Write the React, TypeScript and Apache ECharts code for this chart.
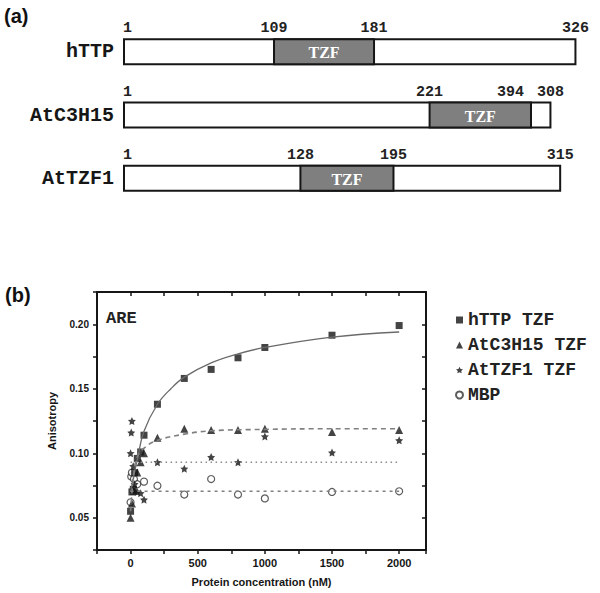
import React, { useEffect, useRef } from "react";
import * as echarts from "echarts";

// ---------- Panel (a): domain diagrams ----------
const proteinNames = ["hTTP", "AtC3H15", "AtTZF1"];
const proteinLengths = [326, 308, 315];
const tzfStarts = [109, 221, 128];
const tzfEnds = [181, 294, 195]; // drawn boundary positions
const boundaryLabels = [
  ["1", "109", "181", "326"],
  ["1", "221", "394", "308"],
  ["1", "128", "195", "315"],
];

// ---------- Panel (b): anisotropy vs protein concentration ----------
const xTickLabels = ["0", "500", "1000", "1500", "2000"];
const yTickLabels = ["0.05", "0.10", "0.15", "0.20"];

const httpConc = [0, 10, 20, 30, 50, 75, 100, 200, 400, 600, 800, 1000, 1500, 2000];
const httpAniso = [0.055, 0.07, 0.072, 0.085, 0.096, 0.101, 0.114, 0.138, 0.158, 0.165, 0.174, 0.182, 0.1915, 0.199];

const c3h15Conc = [0, 10, 25, 50, 75, 100, 200, 400, 600, 800, 1000, 1500, 2000];
const c3h15Aniso = [0.05, 0.061, 0.071, 0.085, 0.093, 0.1, 0.112, 0.119, 0.118, 0.118, 0.119, 0.1165, 0.118];

const tzf1Conc = [0, 5, 10, 20, 30, 50, 75, 100, 200, 400, 600, 800, 1000, 1500, 2000];
const tzf1Aniso = [0.1, 0.116, 0.125, 0.09, 0.076, 0.07, 0.069, 0.064, 0.093, 0.088, 0.097, 0.093, 0.113, 0.1005, 0.11];

const mbpConc = [0, 5, 10, 25, 50, 100, 200, 400, 600, 800, 1000, 1500, 2000];
const mbpAniso = [0.062, 0.082, 0.085, 0.08, 0.076, 0.078, 0.0748, 0.068, 0.08, 0.068, 0.065, 0.07, 0.0705];

// fitted curves
const httpFitX = [0, 25, 50, 100, 200, 300, 400, 600, 800, 1000, 1500, 2000];
const httpFitY = [0.07, 0.083, 0.095, 0.117, 0.138, 0.15, 0.159, 0.17, 0.177, 0.182, 0.19, 0.194];
const c3h15FitX = [0, 25, 50, 100, 200, 400, 600, 1000, 1500, 2000];
const c3h15FitY = [0.055, 0.085, 0.097, 0.104, 0.11, 0.1148, 0.1174, 0.1185, 0.119, 0.119];
const tzf1FitX = [0, 2000];
const tzf1FitY = [0.093, 0.093];
const mbpFitX = [0, 2000];
const mbpFitY = [0.0705, 0.0705];

const seriesNames = ["hTTP TZF", "AtC3H15 TZF", "AtTZF1 TZF", "MBP"];

const starPath =
  "path://M0,-10 L2.9,-4 9.5,-3.1 4.7,1.5 5.9,8.1 0,5 -5.9,8.1 -4.7,1.5 -9.5,-3.1 -2.9,-4 Z";

const zip = (xs: number[], ys: number[]) => xs.map((x, i) => [x, ys[i]]);

const INK = "#161616";
const MONO = "'Liberation Mono', 'DejaVu Sans Mono', monospace";
const SANS = "'Liberation Sans', Arial, sans-serif";

export default function App() {
  const ref = useRef<HTMLDivElement>(null);

  useEffect(() => {
    if (!ref.current) return;
    document.body.style.margin = "0";
    const chart = echarts.init(ref.current, undefined, { renderer: "svg" });

    const frameAxis = {
      axisLine: { show: true, onZero: false, lineStyle: { color: INK, width: 2 } },
      splitLine: { show: false },
    };

    const option: any = {
      animation: false,
      backgroundColor: "#ffffff",
      grid: [
        { left: 97, top: 292, width: 329, height: 258 },
        { left: 124, top: 20, width: 457, height: 190 },
      ],
      xAxis: [
        {
          gridIndex: 0,
          type: "value",
          position: "bottom",
          min: -250,
          max: 2200,
          interval: 250,
          ...frameAxis,
          axisTick: { show: true, inside: false, length: 4, lineStyle: { color: INK, width: 1.5 } },
          axisLabel: {
            show: true,
            margin: 7,
            fontFamily: SANS,
            fontWeight: "bold",
            fontSize: 11,
            color: INK,
            formatter: (v: number) => {
              const s = String(Math.round(v));
              return xTickLabels.includes(s) ? s : "";
            },
          },
          name: "Protein concentration (nM)",
          nameLocation: "middle",
          nameGap: 26,
          nameTextStyle: { fontFamily: SANS, fontWeight: "bold", fontSize: 11, color: INK },
        },
        {
          gridIndex: 0,
          type: "value",
          position: "top",
          min: -250,
          max: 2200,
          interval: 250,
          ...frameAxis,
          axisTick: { show: true, inside: true, length: 4, lineStyle: { color: INK, width: 1.5 } },
          axisLabel: { show: false },
        },
        {
          gridIndex: 1,
          type: "value",
          min: 1,
          max: 330,
          show: false,
        },
      ],
      yAxis: [
        {
          gridIndex: 0,
          type: "value",
          position: "left",
          min: 0.025,
          max: 0.225,
          interval: 0.025,
          ...frameAxis,
          axisTick: { show: true, inside: false, length: 4, lineStyle: { color: INK, width: 1.5 } },
          axisLabel: {
            show: true,
            margin: 8,
            fontFamily: SANS,
            fontWeight: "bold",
            fontSize: 10,
            color: INK,
            formatter: (v: number) => {
              const s = v.toFixed(2);
              return yTickLabels.includes(s) && Math.abs(v - Number(s)) < 1e-6 ? s : "";
            },
          },
          name: "Anisotropy",
          nameLocation: "middle",
          nameGap: 40,
          nameTextStyle: { fontFamily: SANS, fontWeight: "bold", fontSize: 11, color: INK },
        },
        {
          gridIndex: 0,
          type: "value",
          position: "right",
          min: 0.025,
          max: 0.225,
          interval: 0.025,
          ...frameAxis,
          axisTick: { show: true, inside: true, length: 4, lineStyle: { color: INK, width: 1.5 } },
          axisLabel: { show: false },
        },
        {
          gridIndex: 1,
          type: "category",
          data: proteinNames,
          inverse: true,
          axisLine: { show: false },
          axisTick: { show: false },
          splitLine: { show: false },
          axisLabel: {
            margin: 10,
            fontFamily: MONO,
            fontWeight: "bold",
            fontSize: 20,
            color: INK,
          },
        },
      ],
      legend: {
        orient: "vertical",
        left: 450,
        top: 306,
        itemWidth: 7,
        itemHeight: 7,
        itemGap: 7,
        selectedMode: false,
        data: [
          { name: seriesNames[0], icon: "rect" },
          { name: seriesNames[1], icon: "triangle" },
          { name: seriesNames[2], icon: starPath },
          { name: seriesNames[3], icon: "circle" },
        ],
        textStyle: {
          fontFamily: MONO,
          fontWeight: "bold",
          fontSize: 18,
          lineHeight: 14,
          color: "#222",
        },
      },
      graphic: [
        {
          type: "text",
          left: 4,
          top: 6,
          style: { text: "(a)", font: `bold 20px ${SANS}`, fill: "#111" },
        },
        {
          type: "text",
          left: 5,
          top: 285,
          style: { text: "(b)", font: `bold 20px ${SANS}`, fill: "#111" },
        },
        {
          type: "text",
          left: 106,
          top: 310,
          style: { text: "ARE", font: `bold 17px ${MONO}`, fill: "#222" },
        },
      ],
      series: [
        // domain diagrams
        {
          type: "custom",
          xAxisIndex: 2,
          yAxisIndex: 2,
          silent: true,
          data: proteinNames.map((n, i) => [i, proteinLengths[i], tzfStarts[i], tzfEnds[i]]),
          encode: { x: [1, 2, 3], y: 0 },
          renderItem: (params: any, api: any) => {
            const row = api.value(0);
            const len = api.value(1);
            const s = api.value(2);
            const e = api.value(3);
            const p0 = api.coord([1, row]);
            const p1 = api.coord([len, row]);
            const ps = api.coord([s, row]);
            const pe = api.coord([e, row]);
            const h = 25;
            const y0 = p0[1] - h / 2;
            const texts = boundaryLabels[params.dataIndex];
            const xs = [p0[0], ps[0], pe[0], p1[0]];
            // avoid overlap of neighbouring labels
            for (let i = xs.length - 2; i >= 1; i--) {
              if (xs[i + 1] - xs[i] < 40) xs[i] = xs[i + 1] - 40;
            }
            const labelEls = texts.map((t: string, i: number) => ({
              type: "text",
              x: i === 0 ? xs[i] - 1 : xs[i],
              y: y0 - 3,
              style: {
                text: t,
                font: `bold 15px ${MONO}`,
                fill: "#222",
                align: i === 0 ? "left" : "center",
                verticalAlign: "bottom",
              },
            }));
            return {
              type: "group",
              children: [
                {
                  type: "rect",
                  shape: { x: p0[0], y: y0, width: p1[0] - p0[0], height: h },
                  style: { fill: "#ffffff", stroke: INK, lineWidth: 2 },
                },
                {
                  type: "rect",
                  shape: { x: ps[0], y: y0, width: pe[0] - ps[0], height: h },
                  style: { fill: "#7f7f7f", stroke: INK, lineWidth: 2 },
                },
                {
                  type: "text",
                  x: (ps[0] + pe[0]) / 2,
                  y: p0[1] + 1,
                  style: {
                    text: "TZF",
                    font: `bold 16px 'Liberation Serif', serif`,
                    fill: "#ffffff",
                    align: "center",
                    verticalAlign: "middle",
                  },
                },
                ...labelEls,
              ],
            };
          },
        },
        // fitted curves
        {
          type: "line",
          xAxisIndex: 0,
          yAxisIndex: 0,
          data: zip(httpFitX, httpFitY),
          smooth: 0.4,
          showSymbol: false,
          silent: true,
          lineStyle: { color: "#6a6a6a", width: 1.3, type: "solid" },
        },
        {
          type: "line",
          xAxisIndex: 0,
          yAxisIndex: 0,
          data: zip(c3h15FitX, c3h15FitY),
          smooth: 0.4,
          showSymbol: false,
          silent: true,
          lineStyle: { color: "#808080", width: 1.6, type: [5, 4] },
        },
        {
          type: "line",
          xAxisIndex: 0,
          yAxisIndex: 0,
          data: zip(tzf1FitX, tzf1FitY),
          showSymbol: false,
          silent: true,
          lineStyle: { color: "#8a8a8a", width: 1.5, type: [1.5, 3.5] },
        },
        {
          type: "line",
          xAxisIndex: 0,
          yAxisIndex: 0,
          data: zip(mbpFitX, mbpFitY),
          showSymbol: false,
          silent: true,
          lineStyle: { color: "#808080", width: 1.5, type: [3, 4] },
        },
        // data points
        {
          name: seriesNames[3],
          type: "scatter",
          xAxisIndex: 0,
          yAxisIndex: 0,
          data: zip(mbpConc, mbpAniso),
          symbol: "circle",
          symbolSize: 7,
          itemStyle: { color: "#ffffff", borderColor: "#333", borderWidth: 1.2 },
        },
        {
          name: seriesNames[2],
          type: "scatter",
          xAxisIndex: 0,
          yAxisIndex: 0,
          data: zip(tzf1Conc, tzf1Aniso),
          symbol: starPath,
          symbolSize: 8,
          itemStyle: { color: "#151515" },
        },
        {
          name: seriesNames[1],
          type: "scatter",
          xAxisIndex: 0,
          yAxisIndex: 0,
          data: zip(c3h15Conc, c3h15Aniso),
          symbol: "triangle",
          symbolSize: 8,
          itemStyle: { color: "#151515" },
        },
        {
          name: seriesNames[0],
          type: "scatter",
          xAxisIndex: 0,
          yAxisIndex: 0,
          data: zip(httpConc, httpAniso),
          symbol: "rect",
          symbolSize: 7,
          itemStyle: { color: "#151515" },
        },
      ],
    };

    chart.setOption(option);
    return () => chart.dispose();
  }, []);

  return <div ref={ref} style={{ width: 600, height: 593 }} />;
}
